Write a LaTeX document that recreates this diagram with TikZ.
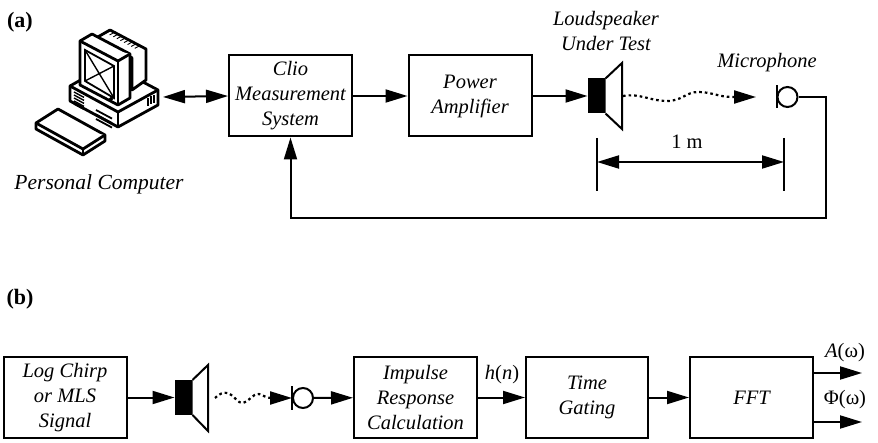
\documentclass[tikz,border=0pt]{standalone}
\usepackage{fontspec}
\setmainfont{Liberation Serif}
\usetikzlibrary{arrows.meta,calc}
\begin{document}
\begin{tikzpicture}[x=1pt,y=-1pt,
  box/.style={draw,line width=2pt,minimum width=123pt,minimum height=81pt,
    inner sep=2pt,align=center,font=\fontsize{20.5}{25}\selectfont\itshape},
  tip/.tip={Triangle[length=22pt,width=13pt]},
  conn/.style={line width=2pt,-tip},
  plain/.style={line width=2pt},
  wave/.style={line width=2.2pt,dash pattern=on 2.6pt off 3pt,-tip},
  lbl/.style={font=\fontsize{20.5}{25}\selectfont\itshape,align=center},
  panel/.style={font=\fontsize{22}{26}\selectfont\bfseries},
  pcline/.style={line width=2.8pt,line join=round,fill=white},
  thin/.style={line width=1.4pt},
  cone/.style={line width=2pt,line join=miter,fill=white},
  micro/.style={circle,draw,line width=2pt,minimum size=20pt,inner sep=0pt},
  driver/.style={fill=black,draw,line width=1pt,minimum width=17pt,minimum height=34pt,inner sep=0pt}
]
\useasboundingbox (0,0) rectangle (878,443);

% ---------------- panel (a) ----------------
\node[panel] (pa) at (20,22) {(a)};

% personal computer: keyboard
\draw[pcline] (36,123) -- (58,109) -- (105,135) -- (105,141) -- (83,155) -- (36,129) -- cycle;
\draw[pcline] (36,123) -- (83,149) -- (105,135);
\draw[pcline] (83,149) -- (83,155);
% case
\draw[pcline] (70,86) -- (109,64) -- (158,90) -- (158,105) -- (118,127) -- (70,101) -- cycle;
\draw[pcline] (70,86) -- (118,112) -- (158,90);
\draw[pcline] (118,112) -- (118,127);
% case vents
\foreach \d in {0,3,6,9,12}
  \draw[thin] (74,{92+\d}) -- ++(10,5.4);
\foreach \d in {0,4.5,9}
  \draw[line width=1.8pt] (96,{110+\d}) -- ++(16,8.6);
\draw[thin] (148,98) -- (148,106) (151,96) -- (151,104) (154,95) -- (154,103);
% monitor back (tube housing)
\draw[pcline] (96,38) -- (110,30) -- (146,49) -- (146,80) -- (132,90) -- (132,58) -- cycle;
\draw[pcline] (96,38) -- (132,58);
\foreach \d in {0,3,...,24}
  \draw[line width=0.9pt] ({106+\d*1.2},{33+\d*0.64}) -- ++(6,-3.2);
% monitor bezel
\draw[pcline] (80,41) -- (92,34) -- (130,54) -- (130,98) -- (118,105) -- (80,85) -- cycle;
\draw[pcline] (80,41) -- (118,61) -- (130,54);
\draw[pcline] (118,61) -- (118,105);
% screen
\draw[line width=1.8pt,fill=white] (85,50) -- (114,66) -- (114,98) -- (85,81) -- cycle;
\draw[thin] (85,50) -- (114,98);
\draw[thin] (85,81) -- (114,66);
\draw[thin] (111,99) circle (1.3);
\coordinate (pc) at (163,97);

\node[lbl,font=\fontsize{21.5}{25}\selectfont\itshape] (pclabel) at (99,184) {Personal Computer};

% measurement chain
\node[box] (clio) at (290.5,96) {Clio\\Measurement\\System};
\node[box] (amp)  at (470,96)   {Power\\Amplifier};
\draw[line width=2pt,tip-tip] (pc) -- (clio.west);
\draw[conn] (clio) -- (amp);

% loudspeaker under test
\node[driver] (spkA) at (596.5,96) {};
\draw[cone] (spkA.north east) -- (622,63) -- (622,129) -- (spkA.south east);
\coordinate (coneA) at (623,96);
\draw[conn] (amp) -- (spkA);
\node[lbl] (spklabel) at (606,31) {Loudspeaker\\Under Test};

% microphone
\node[micro] (micA) at (787.5,97) {};
\draw[line width=2pt] (micA.west) ++(0,-11.5) -- ++(0,23);
\node[lbl] (miclabel) at (767,63) {Microphone};

% propagating sound
\coordinate (waveA) at (756,97);
\draw[wave] (coneA) .. controls (640,93) and (650,101) .. (667,101)
  .. controls (682,101) and (686,92) .. (698,92)
  .. controls (712,92) and (718,97) .. (733,97) -- (waveA);

% distance marker
\coordinate (dimL) at (597,162);
\coordinate (dimR) at (784,162);
\draw[plain] (dimL) ++(0,-24) -- ++(0,53);
\draw[plain] (dimR) ++(0,-24) -- ++(0,53);
\draw[line width=2pt,tip-tip] (dimL) -- (dimR);
\node[font=\fontsize{20.5}{25}\selectfont] (dist) at (687,142) {1 m};

% feedback loop
\coordinate (fb) at (826,218);
\draw[conn] (micA.east) -| (fb) -| (clio.south);

% ---------------- panel (b) ----------------
\node[panel] (pb) at (20,299) {(b)};

\node[box] (sig)  at (65,397.5)    {Log Chirp\\or MLS\\Signal};
\node[box] (imp)  at (415.5,397.5) {Impulse\\Response\\Calculation};
\node[box,minimum width=122pt] (gate) at (587,397.5) {Time\\Gating};
\node[box] (fft)  at (751.5,397.5) {FFT};

\node[driver] (spkB) at (183.5,397.5) {};
\draw[cone] (spkB.north east) -- (208,365) -- (208,431) -- (spkB.south east);
\coordinate (coneB) at (215,398);
\draw[conn] (sig) -- (spkB);

\node[micro] (micB) at (303,398) {};
\draw[line width=2pt] (micB.west) ++(0,-11.5) -- ++(0,23);

\coordinate (waveB) at (292,398);
\draw[wave] (coneB) .. controls (219,394) and (223,392) .. (228,393)
  .. controls (234,395) and (238,404) .. (243,403)
  .. controls (249,402) and (253,393) .. (259,394)
  .. controls (263,395) and (266,398) .. (271,398) -- (waveB);

\draw[conn] (micB) -- (imp);
\draw[conn] (imp) -- (gate);
\node[font=\fontsize{20.5}{25}\selectfont] (hn) at (502,375) {\textit{h}(\textit{n})};
\draw[conn] (gate) -- (fft);

\coordinate (outA) at (862,373);
\coordinate (outP) at (862,422);
\draw[conn] (fft.east |- outA) -- (outA);
\draw[conn] (fft.east |- outP) -- (outP);
\node[font=\fontsize{20.5}{25}\selectfont] (amag) at (845,353) {\textit{A}(ω)};
\node[font=\fontsize{20.5}{25}\selectfont] (aphs) at (845,400) {Φ(ω)};
\end{tikzpicture}
\end{document}
